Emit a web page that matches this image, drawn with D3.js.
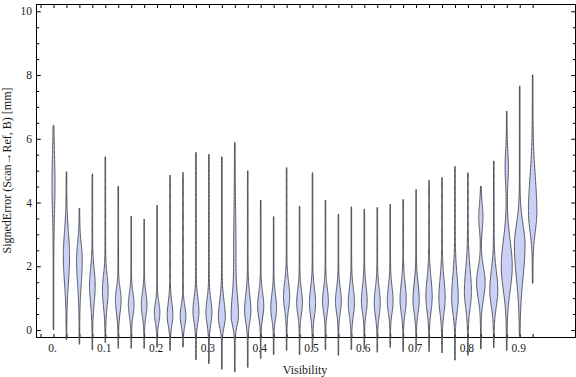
<!DOCTYPE html>
<html><head><meta charset="utf-8">
<script src="https://cdn.jsdelivr.net/npm/d3@7/dist/d3.min.js"></script>
<style>
html,body{margin:0;padding:0;background:#fff;}
svg{display:block;}
text{font-family:"Liberation Serif","Times New Roman",serif;}
</style></head>
<body>
<svg id="chart" width="576" height="377"></svg>
<script>
// ---- data ----
const visibility = [0,0.025,0.05,0.075,0.1,0.125,0.15,0.175,0.2,0.225,0.25,0.275,0.3,0.325,0.35,0.375,0.4,0.425,0.45,0.475,0.5,0.525,0.55,0.575,0.6,0.625,0.65,0.675,0.7,0.725,0.75,0.775,0.8,0.825,0.85,0.875,0.9,0.925];
const errMin = [0,-0.31,-0.45,-0.63,-0.4,-0.58,-0.58,-0.58,-0.55,-0.65,-0.54,-0.94,-1.06,-1.24,-1.32,-1.18,-0.9,-0.78,-0.64,-0.78,-0.64,-0.62,-0.8,-0.62,-0.6,-0.7,-0.55,-0.68,-0.64,-0.68,-0.72,-0.95,-0.8,-0.6,-0.56,-0.65,-0.2,1.46];
const errMax = [6.43,4.97,3.83,4.9,5.44,4.52,3.58,3.48,3.92,4.86,4.95,5.58,5.52,5.44,5.89,5.0,4.08,3.56,5.1,3.89,4.94,4.08,3.64,3.87,3.8,3.85,3.95,4.1,4.41,4.7,4.79,5.14,4.94,4.52,5.31,6.87,7.66,8.01];
const peakAt = [4.6,2.3,2.2,1.4,1.25,0.95,0.8,0.8,0.55,0.45,0.45,0.6,0.55,0.4,0.45,0.6,0.75,0.7,1.05,0.85,0.85,0.9,0.9,0.85,0.9,0.85,0.9,0.95,0.95,1.05,1.0,1.0,1.2,1.5,1.25,2.0,2.65,3.7];
const peakDensity = [0.4,0.95,0.85,0.85,0.85,0.85,0.85,0.85,0.83,0.85,0.85,0.9,0.9,1.05,1.05,0.95,0.93,0.87,0.93,0.87,0.93,0.87,0.87,0.93,0.87,0.9,0.87,0.93,0.93,0.95,0.95,1.0,1.07,1.33,1.23,1.73,1.67,1.3];
const spreadDown = [0.9,0.8,0.75,0.55,0.5,0.4,0.35,0.35,0.3,0.3,0.3,0.35,0.35,0.3,0.3,0.35,0.35,0.35,0.4,0.35,0.4,0.35,0.35,0.4,0.35,0.4,0.35,0.4,0.4,0.45,0.45,0.45,0.5,0.5,0.5,0.75,1.0,0.6];
const spreadUp = [0.9,0.75,0.5,0.5,0.45,0.35,0.35,0.35,0.3,0.4,0.3,0.4,0.4,0.5,0.6,0.5,0.4,0.4,0.45,0.4,0.45,0.4,0.4,0.45,0.45,0.45,0.45,0.5,0.5,0.55,0.6,0.7,0.7,0.45,0.6,0.8,0.65,1.1];
// secondary modes (null = none)
const bumpAt =      [null,null,null,null,null,null,null,null,null,null,null,null,null,null,2.5,null,null,null,null,null,null,null,null,null,null,null,null,null,null,null,null,null,null,3.55,null,5.1,null,null];
const bumpDensity = [null,null,null,null,null,null,null,null,null,null,null,null,null,null,0.3,null,null,null,null,null,null,null,null,null,null,null,null,null,null,null,null,null,null,0.6,null,0.45,null,null];
const bumpSpread =  [null,null,null,null,null,null,null,null,null,null,null,null,null,null,1.2,null,null,null,null,null,null,null,null,null,null,null,null,null,null,null,null,null,null,0.4,null,0.5,null,null];

const xTicks = d3.range(-1,38).map(i => +(i*0.025).toFixed(3));
const xLabels = {0:"0.",0.1:"0.1",0.2:"0.2",0.3:"0.3",0.4:"0.4",0.5:"0.5",0.6:"0.6",0.7:"0.7",0.8:"0.8",0.9:"0.9"};
const yMajor = [0,2,4,6,8,10];
const yMinor = d3.range(0,21).map(i=>i*0.5).filter(v=>v%2!==0);
const xTitle = "Visibility";
const yTitle = "SignedError (Scan\u2192Ref, B) [mm]";

// ---- layout ----
const svg = d3.select("#chart");
const frame = {l:36.5, r:575.5, t:4.5, b:337.5};
const x = d3.scaleLinear().domain([0,0.9]).range([53.5,519.7]);
const y = d3.scaleLinear().domain([0,10]).range([330,11.3]);
const w = d3.scaleLinear().domain([0,1]).range([0,3]);
const baseHalf = 0.3;

// axes (ticks inward)
const gB = svg.append("g").attr("transform",`translate(0,${frame.b})`)
  .call(d3.axisBottom(x).tickValues(xTicks).tickSize(-3.5).tickPadding(6)
    .tickFormat(d => xLabels[d] !== undefined ? xLabels[d] : ""));
const gT = svg.append("g").attr("transform",`translate(0,${frame.t})`)
  .call(d3.axisTop(x).tickValues(xTicks).tickSize(-3.5).tickFormat(""));
const gL = svg.append("g").attr("transform",`translate(${frame.l},0)`)
  .call(d3.axisLeft(y).tickValues(yMajor).tickSize(-4.3).tickPadding(4.5).tickFormat(d3.format("d")));
const gL2 = svg.append("g").attr("transform",`translate(${frame.l},0)`)
  .call(d3.axisLeft(y).tickValues(yMinor).tickSize(-2.7).tickFormat(""));
const gR = svg.append("g").attr("transform",`translate(${frame.r},0)`)
  .call(d3.axisRight(y).tickValues(yMajor).tickSize(-4.3).tickFormat(""));
const gR2 = svg.append("g").attr("transform",`translate(${frame.r},0)`)
  .call(d3.axisRight(y).tickValues(yMinor).tickSize(-2.7).tickFormat(""));
[gB,gT,gL,gL2,gR,gR2].forEach(g=>{
  g.select(".domain").remove();
  g.selectAll(".tick line").attr("stroke","#000").attr("stroke-width",1);
  g.selectAll(".tick text").attr("fill","#1a1a1a").style("font-family","'Liberation Serif',serif").style("font-size","11.5px");
});
gB.selectAll(".tick text").attr("dx","-1.5");

// frame
svg.append("rect").attr("x",frame.l).attr("y",frame.t)
  .attr("width",frame.r-frame.l).attr("height",frame.b-frame.t)
  .attr("fill","none").attr("stroke","#000").attr("stroke-width",1);

// violins
const violins = visibility.map((v,i)=>({v,i}));
function halfWidth(i,val){
  const d = val - peakAt[i];
  const s = d < 0 ? spreadDown[i] : spreadUp[i];
  let dens = peakDensity[i]*Math.exp(-0.5*(d/s)*(d/s));
  if (bumpAt[i] !== null){
    const e = (val - bumpAt[i]) / bumpSpread[i];
    dens += bumpDensity[i]*Math.exp(-0.5*e*e);
  }
  return baseHalf + w(dens);
}
const line = d3.line().x(p=>p[0]).y(p=>p[1]);
svg.append("g").selectAll("path").data(violins).join("path")
  .attr("d", ({v,i})=>{
    const n = 160;
    const vals = d3.range(n+1).map(k => errMin[i] + (errMax[i]-errMin[i])*k/n);
    const cx = x(v);
    const right = vals.map(val => [cx + halfWidth(i,val), y(val)]);
    const left = vals.slice().reverse().map(val => [cx - halfWidth(i,val), y(val)]);
    right[0][0] = cx; right[n][0] = cx; left[0][0] = cx; left[n][0] = cx;
    return line(right.concat(left)) + "Z";
  })
  .attr("fill","#cbd1f5")
  .attr("stroke","#35353d")
  .attr("stroke-opacity",0.9)
  .attr("stroke-width",0.9);

// titles
svg.append("text").attr("x",305).attr("y",374).attr("text-anchor","middle")
  .style("font-size","12px").attr("fill","#1a1a1a").text(xTitle);
svg.append("text").attr("transform","translate(10.8,170.5) rotate(-90)")
  .attr("text-anchor","middle").style("font-size","12px").attr("fill","#1a1a1a").text(yTitle);
</script>
</body></html>
